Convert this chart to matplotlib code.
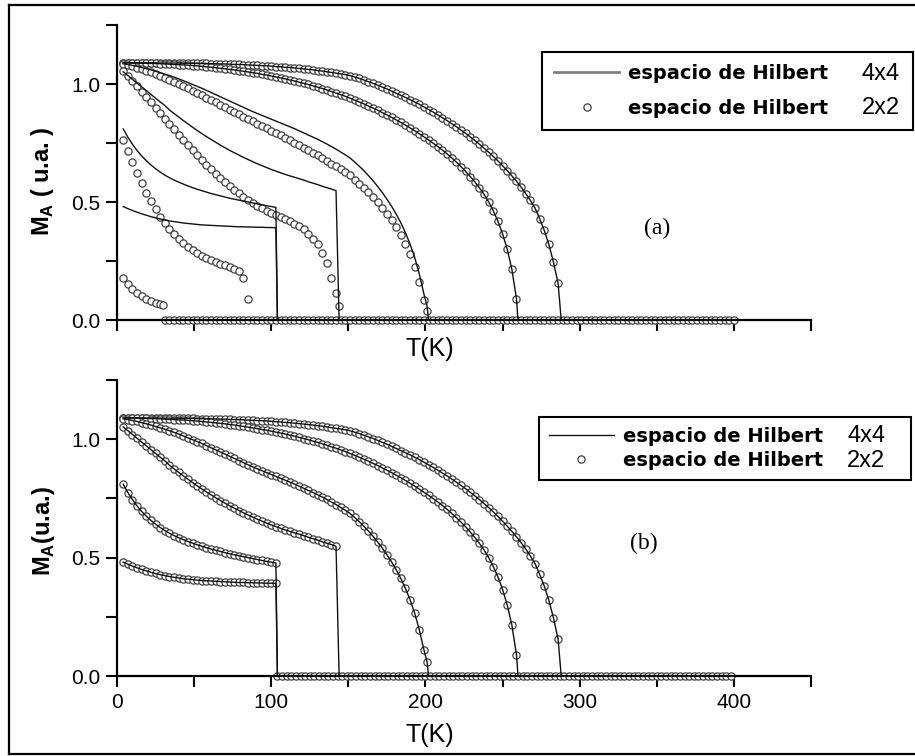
import numpy as np
import matplotlib
matplotlib.use("Agg")
import matplotlib.pyplot as plt
from matplotlib.lines import Line2D
from matplotlib.ticker import MultipleLocator, FormatStrFormatter

plt.rcParams['mathtext.fontset'] = 'custom'
plt.rcParams['mathtext.rm'] = 'Liberation Sans'
plt.rcParams['mathtext.bf'] = 'Liberation Sans:bold'

# temperature grid: T = 4, 7, 10, ... K
T0, DT = 4, 3

# Hilbert space 4x4 (lines, also the circles in panel b)
m1 = [1.090, 1.090, 1.090, 1.090, 1.090, 1.090, 1.090, 1.090, 1.089, 1.089,
      1.089, 1.089, 1.089, 1.088, 1.088, 1.088, 1.087, 1.087, 1.087, 1.086,
      1.086, 1.085, 1.085, 1.084, 1.083, 1.083, 1.082, 1.081, 1.080, 1.079,
      1.078, 1.077, 1.076, 1.074, 1.073, 1.071, 1.070, 1.068, 1.066, 1.064,
      1.062, 1.060, 1.057, 1.055, 1.052, 1.049, 1.046, 1.043, 1.040, 1.036,
      1.030, 1.024, 1.017, 1.010, 1.003, 0.995, 0.987, 0.979, 0.970, 0.961,
      0.952, 0.943, 0.934, 0.924, 0.914, 0.903, 0.892, 0.881, 0.869, 0.857,
      0.845, 0.832, 0.819, 0.805, 0.791, 0.776, 0.761, 0.745, 0.728, 0.711,
      0.693, 0.674, 0.654, 0.633, 0.611, 0.588, 0.563, 0.536, 0.507, 0.475,
      0.430, 0.380, 0.320, 0.245, 0.155]
m2 = [1.090, 1.090, 1.089, 1.089, 1.088, 1.088, 1.087, 1.087, 1.086, 1.085,
      1.084, 1.083, 1.082, 1.081, 1.080, 1.078, 1.077, 1.075, 1.073, 1.071,
      1.069, 1.067, 1.065, 1.062, 1.060, 1.057, 1.054, 1.051, 1.048, 1.045,
      1.041, 1.038, 1.034, 1.030, 1.026, 1.022, 1.017, 1.013, 1.008, 1.003,
      0.998, 0.992, 0.987, 0.981, 0.975, 0.968, 0.962, 0.955, 0.948, 0.940,
      0.932, 0.924, 0.916, 0.907, 0.898, 0.889, 0.879, 0.869, 0.859, 0.848,
      0.837, 0.826, 0.814, 0.802, 0.789, 0.776, 0.763, 0.749, 0.735, 0.720,
      0.704, 0.687, 0.669, 0.650, 0.630, 0.608, 0.585, 0.560, 0.532, 0.500,
      0.462, 0.418, 0.365, 0.300, 0.215]
m3 = [1.086, 1.083, 1.079, 1.075, 1.070, 1.065, 1.060, 1.054, 1.048, 1.042,
      1.036, 1.029, 1.022, 1.014, 1.006, 0.998, 0.990, 0.982, 0.973, 0.964,
      0.955, 0.946, 0.937, 0.928, 0.919, 0.910, 0.901, 0.892, 0.883, 0.875,
      0.867, 0.859, 0.851, 0.843, 0.835, 0.827, 0.819, 0.811, 0.802, 0.793,
      0.784, 0.775, 0.766, 0.756, 0.746, 0.735, 0.724, 0.712, 0.700, 0.687,
      0.670, 0.652, 0.633, 0.612, 0.590, 0.566, 0.540, 0.512, 0.482, 0.449,
      0.412, 0.370, 0.322, 0.265, 0.195, 0.110]
m4 = [1.052, 1.036, 1.020, 1.004, 0.988, 0.972, 0.956, 0.940, 0.924, 0.909,
      0.890, 0.875, 0.860, 0.845, 0.831, 0.817, 0.803, 0.790, 0.777, 0.765,
      0.753, 0.741, 0.730, 0.719, 0.709, 0.699, 0.689, 0.680, 0.671, 0.662,
      0.654, 0.646, 0.638, 0.631, 0.624, 0.617, 0.611, 0.605, 0.599, 0.593,
      0.586, 0.580, 0.574, 0.567, 0.561, 0.555, 0.548]
m5 = [0.810, 0.775, 0.745, 0.718, 0.695, 0.675, 0.657, 0.641, 0.627, 0.614,
      0.603, 0.593, 0.584, 0.576, 0.568, 0.561, 0.554, 0.548, 0.542, 0.536,
      0.531, 0.526, 0.521, 0.516, 0.512, 0.508, 0.504, 0.500, 0.496, 0.492,
      0.488, 0.484, 0.481, 0.477]
m6 = [0.481, 0.472, 0.464, 0.457, 0.450, 0.444, 0.438, 0.433, 0.428, 0.424,
      0.420, 0.417, 0.414, 0.411, 0.409, 0.407, 0.405, 0.403, 0.402, 0.401,
      0.400, 0.399, 0.398, 0.397, 0.396, 0.395, 0.395, 0.394, 0.394, 0.393,
      0.393, 0.392, 0.392, 0.391]
# last point before the jump to zero, and the jump temperature
tail_t = [[], [259], [201], [], [], []]
tail_m = [[], [0.090], [0.060], [], [], []]
t_drop = [288, 260, 202, 144, 104, 104]

# Hilbert space 2x2, panel (a): curves that differ from the 4x4 ones
a3 = [1.085, 1.080, 1.075, 1.069, 1.063, 1.056, 1.049, 1.042, 1.034, 1.026,
      1.018, 1.009, 1.000, 0.991, 0.982, 0.972, 0.962, 0.952, 0.942, 0.932,
      0.922, 0.912, 0.902, 0.892, 0.882, 0.872, 0.862, 0.852, 0.842, 0.832,
      0.822, 0.812, 0.802, 0.792, 0.782, 0.772, 0.762, 0.752, 0.742, 0.731,
      0.720, 0.709, 0.698, 0.687, 0.675, 0.663, 0.651, 0.639, 0.626, 0.613,
      0.595, 0.578, 0.560, 0.541, 0.521, 0.499, 0.476, 0.451, 0.424, 0.394,
      0.360, 0.322, 0.278, 0.225, 0.160, 0.085]
a4 = [1.055, 1.035, 1.013, 0.991, 0.968, 0.945, 0.922, 0.899, 0.876, 0.853,
      0.830, 0.808, 0.786, 0.764, 0.742, 0.720, 0.699, 0.678, 0.658, 0.639,
      0.620, 0.602, 0.585, 0.568, 0.552, 0.537, 0.523, 0.510, 0.497, 0.485,
      0.474, 0.464, 0.454, 0.445, 0.436, 0.427, 0.418, 0.408, 0.398, 0.387,
      0.365, 0.345, 0.320, 0.285, 0.240, 0.180, 0.115]
a5 = [0.763, 0.715, 0.668, 0.623, 0.580, 0.540, 0.503, 0.469, 0.438, 0.410,
      0.385, 0.363, 0.343, 0.326, 0.310, 0.296, 0.284, 0.273, 0.263, 0.254,
      0.246, 0.239, 0.232, 0.225, 0.217, 0.206, 0.180]
a6 = [0.180, 0.152, 0.131, 0.115, 0.102, 0.091, 0.082, 0.074, 0.068]
a_tail_t = [[], [259], [201], [144], [85], [30]]
a_tail_m = [[], [0.090], [0.040], [0.060], [0.090], [0.064]]

# zero magnetisation circles after the transitions
zero_start = {'a': 31, 'b': 104}
T_MAX = 400

lines_m = [m1, m2, m3, m4, m5, m6]
circ_a = [m1, m2, a3, a4, a5, a6]


def grid(vals):
    return list(T0 + DT * np.arange(len(vals)))


circ_kw = dict(ls='none', marker='o', ms=5.2, mfc='white', mec='#404040',
               mew=0.9, clip_on=False, zorder=2)
line_kw = dict(color='#111111', lw=1.0, zorder=3, clip_on=False)

fig = plt.figure(figsize=(9.15, 7.56), dpi=100)
ax_a = fig.add_axes([0.1279, 0.5767, 0.7585, 0.3902])
ax_b = fig.add_axes([0.1279, 0.1058, 0.7585, 0.3915])

for key, ax, circs, ctt, ctm in (('a', ax_a, circ_a, a_tail_t, a_tail_m),
                                 ('b', ax_b, lines_m, tail_t, tail_m)):
    for vals, tt, tm in zip(circs, ctt, ctm):
        ax.plot(grid(vals) + tt, vals + tm, **circ_kw)
    zt = np.arange(zero_start[key], T_MAX + 1, DT)
    ax.plot(zt, np.zeros(len(zt)), **circ_kw)
    for vals, tt, tm, td in zip(lines_m, tail_t, tail_m, t_drop):
        ax.plot(grid(vals) + tt + [td, T_MAX], vals + tm + [0.0, 0.0], **line_kw)

    ax.set_xlim(0, 450)
    ax.set_ylim(0, 1.25)
    for s in ('top', 'right'):
        ax.spines[s].set_visible(False)
    for s in ('left', 'bottom'):
        ax.spines[s].set_linewidth(1.6)
    ax.xaxis.set_major_locator(MultipleLocator(100))
    ax.xaxis.set_minor_locator(MultipleLocator(50))
    ax.yaxis.set_major_locator(MultipleLocator(0.5))
    ax.yaxis.set_minor_locator(MultipleLocator(0.25))
    ax.yaxis.set_major_formatter(FormatStrFormatter('%.1f'))
    ax.tick_params(which='both', direction='out', length=8, width=1.5,
                   labelsize=15, pad=4, labelfontfamily='Liberation Sans')

ax_a.tick_params(axis='x', labelbottom=False)

ax_a.set_ylabel(r'M$_{\mathbf{A}}$ ( u.a. )', family='Liberation Sans',
                weight='bold', size=17, va='center')
ax_a.yaxis.set_label_coords(-0.108, 0.47)
ax_b.set_ylabel(r'M$_{\mathbf{A}}$(u.a.)', family='Liberation Sans',
                weight='bold', size=17, va='center')
ax_b.yaxis.set_label_coords(-0.106, 0.49)

ax_a.set_xlabel('T(K)', family='Liberation Sans', size=18, va='center')
ax_a.xaxis.set_label_coords(0.45, -0.098)
ax_b.set_xlabel('T(K)', family='Liberation Sans', size=18, va='center')
ax_b.xaxis.set_label_coords(0.45, -0.20)

fig.text(657 / 915, 1 - 228 / 756, '(a)', ha='center', va='center',
         family='Liberation Serif', size=17)
fig.text(644 / 915, 1 - 543 / 756, '(b)', ha='center', va='center',
         family='Liberation Serif', size=17)

legends = []
for ax, box, lsp, bpad, hcol, hlw, sizes, sx in (
        (ax_a, (0.5923, 0.8188, 0.4055, 0.1124), 0.80, 0.62, '#808080', 2.0,
         ['4x4', '2x2'], 862),
        (ax_b, (0.5891, 0.3558, 0.4066, 0.0926), 0.28, 0.50, '#111111', 1.0,
         ['4x4', '2x2'], 847)):
    handles = [Line2D([], [], color=hcol, lw=hlw),
               Line2D([], [], ls='none', marker='o', ms=5.2, mfc='white',
                      mec='#404040', mew=0.9)]
    leg = ax.legend(handles, ['espacio de Hilbert'] * 2, loc='upper left',
                    bbox_to_anchor=box, bbox_transform=fig.transFigure,
                    mode='expand', borderaxespad=0, fancybox=False,
                    framealpha=1, edgecolor='black', borderpad=bpad,
                    labelspacing=lsp, handlelength=3.35, handletextpad=0.45,
                    prop=dict(family='DejaVu Sans', weight='bold', size=14))
    leg.get_frame().set_linewidth(1.5)
    legends.append((leg, sizes, sx))

# frame around the figure (open on the right)
fx0, fy0, fy1 = 9 / 915, 1 - 754 / 756, 1 - 5 / 756
for xs, ys in (([fx0, fx0], [fy0, fy1]), ([fx0, 1], [fy1, fy1]),
               ([fx0, 1], [fy0, fy0])):
    fig.add_artist(Line2D(xs, ys, transform=fig.transFigure, color='black',
                          lw=1.6))

fig.canvas.draw()
W, H = fig.canvas.get_width_height()
for leg, sizes, sx in legends:
    for txt, lab in zip(leg.get_texts(), sizes):
        bb = txt.get_window_extent()
        fig.text(sx / W, (bb.y0 + bb.y1) / 2 / H, lab, ha='left', va='center',
                 family='Liberation Sans', size=17)

fig.savefig('out.png', dpi=100)
